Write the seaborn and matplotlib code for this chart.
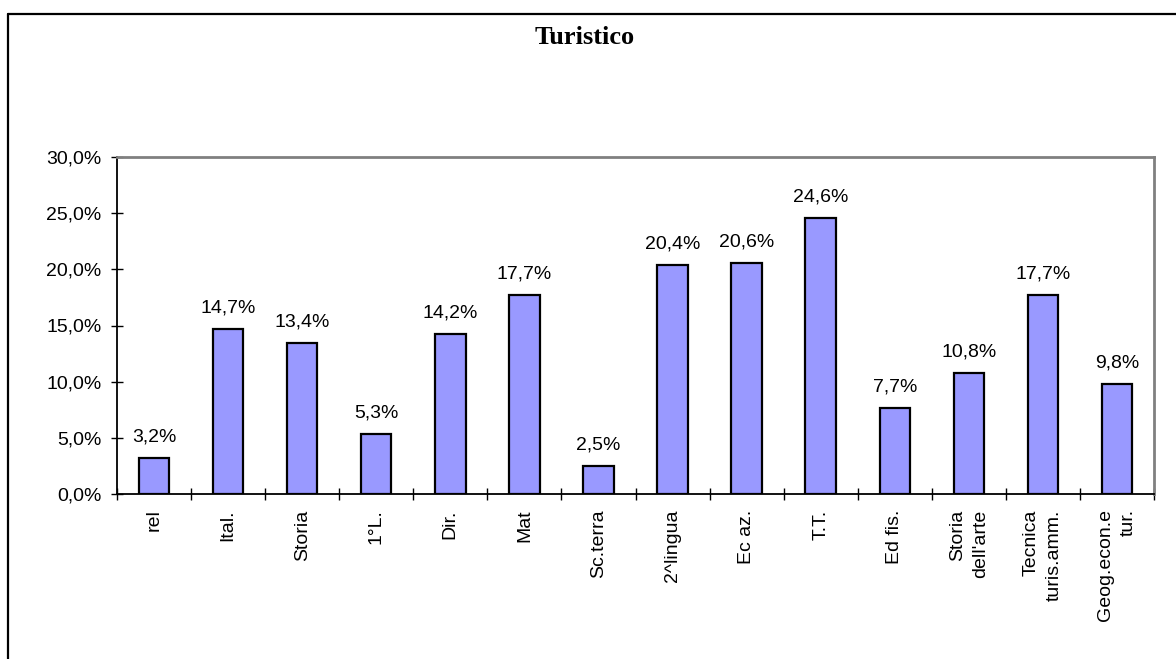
import matplotlib
matplotlib.use("Agg")
import matplotlib.pyplot as plt
import seaborn as sns
from matplotlib.ticker import FuncFormatter

materie = ["rel", "Ital.", "Storia", "1°L.", "Dir.", "Mat", "Sc.terra", "2^lingua",
           "Ec az.", "T.T.", "Ed fis.", "Storia\ndell'arte", "Tecnica\nturis.amm.",
           "Geog.econ.e\ntur."]
percentuali = [3.2, 14.7, 13.4, 5.3, 14.2, 17.7, 2.5, 20.4, 20.6, 24.6, 7.7, 10.8, 17.7, 9.8]

sns.set_style("white")
plt.rcParams['font.family'] = ['Liberation Sans', 'DejaVu Sans']
plt.rcParams.update({"text.color": "black", "xtick.color": "black",
                     "ytick.color": "black", "axes.labelcolor": "black"})

fig = plt.figure(figsize=(11.76, 6.59), dpi=100)
ax = fig.add_axes([117 / 1176, 1 - 494 / 659, (1154 - 117) / 1176, (494 - 157) / 659])

sns.barplot(x=list(range(len(materie))), y=percentuali, color="#9999FF", saturation=1,
            edgecolor="black", linewidth=1.6, width=0.41, ax=ax)

ax.bar_label(ax.containers[0], labels=[f"{v:.1f}%".replace(".", ",") for v in percentuali],
             padding=9, fontsize=14)

ax.set_ylim(0, 30)
ax.set_xlim(-0.5, len(materie) - 0.5)
ax.set_yticks([0, 5, 10, 15, 20, 25, 30])
ax.yaxis.set_major_formatter(FuncFormatter(lambda v, p: f"{v:.1f}%".replace(".", ",")))
ax.tick_params(axis="y", direction="inout", length=8, width=1, labelsize=14, pad=7, left=True)

# category ticks at boundaries, labels at centres
ax.set_xticks([i - 0.5 for i in range(len(materie) + 1)])
ax.set_xticklabels([])
ax.set_xticks(range(len(materie)), minor=True)
ax.set_xticklabels(materie, minor=True, rotation=90, ha="center", va="top",
                   multialignment="right", fontsize=14, linespacing=1.45)
ax.tick_params(axis="x", which="major", direction="inout", length=9, width=1, bottom=True)
ax.tick_params(axis="x", which="minor", length=0, pad=11)
ax.set_xlabel("")
ax.set_ylabel("")

for s in ["left", "bottom"]:
    ax.spines[s].set_color("black")
    ax.spines[s].set_linewidth(1.3)
for s in ["top", "right"]:
    ax.spines[s].set_color("#808080")
    ax.spines[s].set_linewidth(2)

fig.text(0.497, 1 - 38 / 659, "Turistico", ha="center", va="center",
         fontsize=19, fontweight="bold", family=["Liberation Serif", "DejaVu Serif"])

# outer frame (top and left visible)
fig.add_artist(plt.Line2D([7.5 / 1176, 1], [1 - 13.5 / 659] * 2, color="black", lw=1.6,
                          transform=fig.transFigure))
fig.add_artist(plt.Line2D([7.5 / 1176] * 2, [0, 1 - 13.5 / 659], color="black", lw=1.6,
                          transform=fig.transFigure))

fig.savefig("out.png", dpi=100)
